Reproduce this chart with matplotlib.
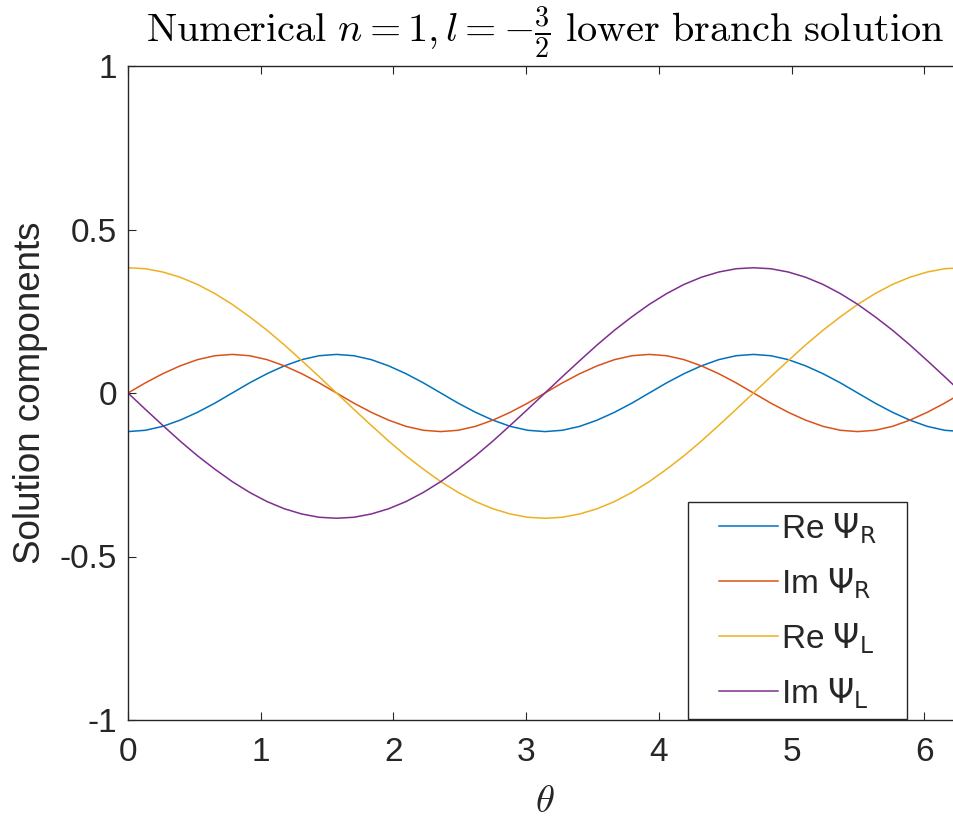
import numpy as np
import matplotlib
matplotlib.use("Agg")
import matplotlib.pyplot as plt
from matplotlib.patches import Rectangle

# sample points along theta (pi/24 steps over one period)
theta = np.linspace(0, 2 * np.pi, 49)

re_psi_r = [-0.118, -0.114, -0.102, -0.083, -0.059, -0.031, 0.0, 0.031, 0.059, 0.083, 0.102, 0.114,
            0.118, 0.114, 0.102, 0.083, 0.059, 0.031, 0.0, -0.031, -0.059, -0.083, -0.102, -0.114,
            -0.118, -0.114, -0.102, -0.083, -0.059, -0.031, 0.0, 0.031, 0.059, 0.083, 0.102, 0.114,
            0.118, 0.114, 0.102, 0.083, 0.059, 0.031, 0.0, -0.031, -0.059, -0.083, -0.102, -0.114,
            -0.118]
im_psi_r = [0.0, 0.031, 0.059, 0.083, 0.102, 0.114, 0.118, 0.114, 0.102, 0.083, 0.059, 0.031,
            0.0, -0.031, -0.059, -0.083, -0.102, -0.114, -0.118, -0.114, -0.102, -0.083, -0.059, -0.031,
            0.0, 0.031, 0.059, 0.083, 0.102, 0.114, 0.118, 0.114, 0.102, 0.083, 0.059, 0.031,
            0.0, -0.031, -0.059, -0.083, -0.102, -0.114, -0.118, -0.114, -0.102, -0.083, -0.059, -0.031,
            0.0]
re_psi_l = [0.383, 0.380, 0.370, 0.354, 0.332, 0.304, 0.271, 0.233, 0.192, 0.147, 0.099, 0.050,
            0.0, -0.050, -0.099, -0.147, -0.192, -0.233, -0.271, -0.304, -0.332, -0.354, -0.370, -0.380,
            -0.383, -0.380, -0.370, -0.354, -0.332, -0.304, -0.271, -0.233, -0.192, -0.147, -0.099, -0.050,
            0.0, 0.050, 0.099, 0.147, 0.192, 0.233, 0.271, 0.304, 0.332, 0.354, 0.370, 0.380,
            0.383]
im_psi_l = [0.0, -0.050, -0.099, -0.147, -0.192, -0.233, -0.271, -0.304, -0.332, -0.354, -0.370, -0.380,
            -0.383, -0.380, -0.370, -0.354, -0.332, -0.304, -0.271, -0.233, -0.192, -0.147, -0.099, -0.050,
            0.0, 0.050, 0.099, 0.147, 0.192, 0.233, 0.271, 0.304, 0.332, 0.354, 0.370, 0.380,
            0.383, 0.380, 0.370, 0.354, 0.332, 0.304, 0.271, 0.233, 0.192, 0.147, 0.099, 0.050,
            0.0]

labels = [r"Re $\Psi_\mathrm{R}$", r"Im $\Psi_\mathrm{R}$",
          r"Re $\Psi_\mathrm{L}$", r"Im $\Psi_\mathrm{L}$"]
colors = ["#0072BD", "#D95319", "#EDB120", "#7E2F8E"]
xticks = [0, 1, 2, 3, 4, 5, 6]
yticks = [-1, -0.5, 0, 0.5, 1]
ytick_labels = ["-1", "-0.5", "0", "0.5", "1"]

plt.rcParams["font.family"] = ["Liberation Sans", "DejaVu Sans"]
plt.rcParams["mathtext.fontset"] = "dejavusans"
AX = "#262626"

W, H = 954, 823
fig = plt.figure(figsize=(W / 100, H / 100), dpi=100)
fig.patch.set_facecolor("white")
# axes runs slightly past the right edge, as in the cropped reference
ax = fig.add_axes([128 / W, 1 - 720 / H, (962 - 128) / W, (720 - 66) / H])

for y, lab, col in zip([re_psi_r, im_psi_r, re_psi_l, im_psi_l], labels, colors):
    ax.plot(theta, y, color=col, lw=1.1, label=lab)

ax.set_xlim(0, 2 * np.pi)
ax.set_ylim(-1, 1)
ax.set_xticks(xticks)
ax.set_yticks(yticks)
ax.set_yticklabels(ytick_labels)
ax.tick_params(direction="in", length=6, width=0.8, color=AX, labelcolor=AX,
               labelsize=24, top=True, right=True)
ax.tick_params(axis="x", pad=12)
ax.tick_params(axis="y", pad=8)
for sp in ax.spines.values():
    sp.set_color(AX)
    sp.set_linewidth(1.0)

ax.set_ylabel("Solution components", fontsize=26.5, color=AX, labelpad=8)
ax.set_xlabel(r"$\theta$", fontsize=28, color=AX, math_fontfamily="cm", labelpad=12)
ax.set_title(r"$\mathrm{Numerical}\ n=1, l=-\frac{3}{2}\ \mathrm{lower\ branch\ solution}$",
             fontsize=29, color="black", math_fontfamily="cm", pad=17.5)

# legend box drawn by hand so the padding can differ per side (MATLAB style)
def px2ax(x, y):
    return (x - 128) / (962 - 128), (720 - y) / (720 - 66)

x0, y0 = px2ax(688, 719)
x1, y1 = px2ax(907, 502)
ax.add_patch(Rectangle((x0, y0), x1 - x0, y1 - y0, transform=ax.transAxes,
                       facecolor="white", edgecolor=AX, lw=1.0, zorder=4.5))

leg = ax.legend(loc="upper left", bbox_to_anchor=px2ax(719, 511),
                fontsize=24, frameon=False, handlelength=1.77,
                handletextpad=0.1, borderpad=0, labelspacing=0.61, borderaxespad=0)
for t in leg.get_texts():
    t.set_color(AX)

fig.savefig("out.png", dpi=100, facecolor="white")
